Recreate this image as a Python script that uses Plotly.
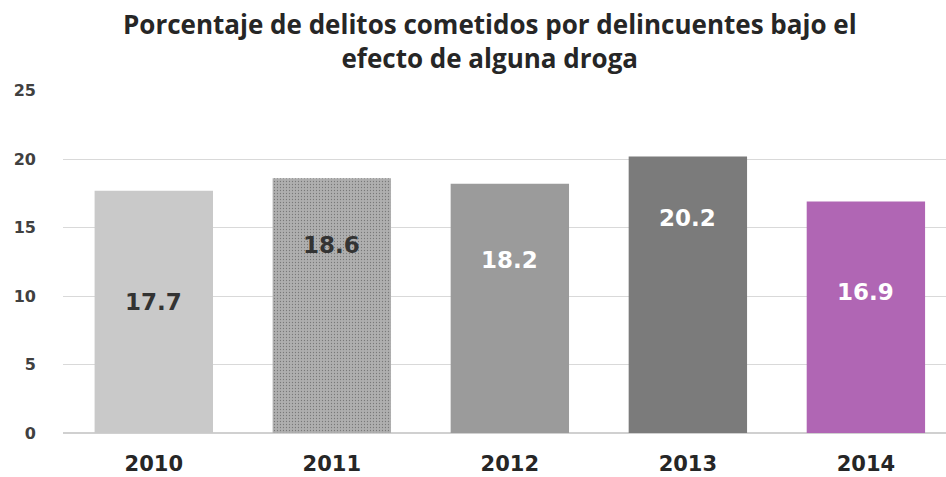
import plotly.graph_objects as go

years = ["2010", "2011", "2012", "2013", "2014"]
values = [17.7, 18.6, 18.2, 20.2, 16.9]
label_y = [9.6, 13.7, 12.6, 15.7, 10.3]
bar_colors = ["#c9c9c9", "#afafaf", "#9b9b9b", "#7b7b7b", "#b066b4"]
label_colors = ["#333333", "#333333", "#ffffff", "#ffffff", "#ffffff"]
pattern_shapes = ["", ".", "", "", ""]

fig = go.Figure()
fig.add_trace(go.Bar(
    x=list(range(len(years))), y=values, width=0.665,
    marker=dict(color=bar_colors, line=dict(width=0),
                pattern=dict(shape=pattern_shapes, fgcolor="#bcbcbc",
                             size=3, solidity=0.15)),
    hoverinfo="skip",
))

for i, (v, ly, c) in enumerate(zip(values, label_y, label_colors)):
    fig.add_annotation(x=i, y=ly, xref="x", yref="y", text=f"<b>{v:.1f}</b>", showarrow=False,
                       font=dict(family="DejaVu Sans", size=23, color=c),
                       xanchor="center", yanchor="middle")

fig.add_annotation(
    xref="paper", yref="paper", x=0.4836, y=1.0 + 86 / 343, xanchor="center", yanchor="top",
    text="<b>Porcentaje de delitos cometidos por delincuentes bajo el<br>efecto de alguna droga</b>",
    showarrow=False, align="center",
    font=dict(family="Open Sans, sans-serif", size=26, color="#262626"),
)

fig.update_layout(
    width=946, height=477,
    margin=dict(l=63, r=0, t=90, b=44),
    paper_bgcolor="white", plot_bgcolor="white",
    showlegend=False,
    xaxis=dict(
        type="linear",
        range=[-0.51, 4.45], showgrid=False, showline=False, zeroline=False,
        tickmode="array", tickvals=list(range(len(years))), ticktext=years,
        tickfont=dict(family="DejaVu Sans", size=21, color="#262626", weight="bold"),
        ticks="", ticklabelstandoff=16,
    ),
    yaxis=dict(
        range=[0, 25.05], dtick=5, tick0=0,
        showgrid=True, gridcolor="#d9d9d9", gridwidth=1.3,
        zeroline=True, zerolinecolor="#d0d0d0", zerolinewidth=1.5,
        showline=False, ticks="",
        tickfont=dict(family="DejaVu Sans", size=16, color="#404040", weight="bold"),
        ticklabelstandoff=26,
    ),
)

fig.write_html("out.html", config={"displayModeBar": False})

with open("out.html", "r", encoding="utf-8") as f:
    html = f.read()
html = html.replace("<body>", '<body style="margin:0;padding:0;overflow:hidden">', 1)
with open("out.html", "w", encoding="utf-8") as f:
    f.write(html)
